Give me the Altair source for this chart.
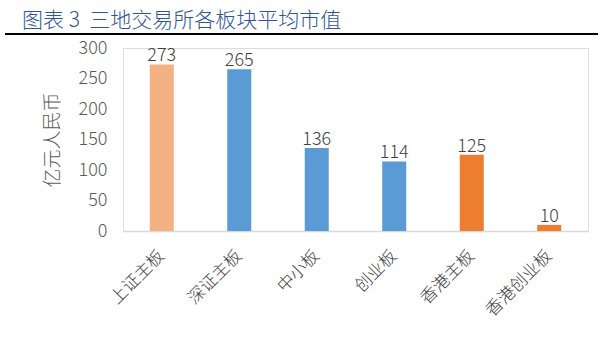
import altair as alt
import pandas as pd

categories = ["上证主板", "深证主板", "中小板", "创业板", "香港主板", "香港创业板"]
values = [273, 265, 136, 114, 125, 10]
colors = ["#F4B183", "#5B9BD5", "#5B9BD5", "#5B9BD5", "#ED7D31", "#ED7D31"]
yticks = [0, 50, 100, 150, 200, 250, 300]

df = pd.DataFrame({"cat": categories, "val": values, "col": colors})
FONT = "Noto Sans CJK SC"

x = alt.X("cat:N", sort=categories, title=None,
          scale=alt.Scale(paddingInner=0.69, paddingOuter=0.345),
          axis=alt.Axis(labelAngle=-45, labelAlign="right", labelBaseline="middle",
                        labelFontSize=17, labelColor="#404040", labelFont=FONT,
                        labelFontWeight=300,
                        labelPadding=22, ticks=False, domainColor="#D9D9D9",
                        domainWidth=1.5, grid=False))
y = alt.Y("val:Q", title="亿元人民币",
          scale=alt.Scale(domain=[0, 300], nice=False),
          axis=alt.Axis(values=yticks, ticks=False, domain=False,
                        grid=False, labelFontSize=18, labelColor="#595959", labelFont=FONT,
                        labelFontWeight=300, labelOverlap=False, labelFlush=False,
                        labelPadding=16, titleFont=FONT, titleFontSize=19,
                        titleFontWeight=300, titleColor="#595959", titlePadding=16))

bars = alt.Chart(df).mark_bar().encode(x=x, y=y, color=alt.Color("col:N", scale=None))
labels = alt.Chart(df).mark_text(dy=-8, fontSize=18, color="#404040", font=FONT,
                                 fontWeight=300).encode(x=x, y=y, text="val:Q")

title = alt.Chart(pd.DataFrame({"t": ["图表 3\u00a0\u00a0三地交易所各板块平均市值"]})).mark_text(
    align="left", baseline="alphabetic", fontSize=21, color="#2E5597", font=FONT,
    fontWeight=300
).encode(x=alt.value(-101), y=alt.value(-21), text="t:N")

line = alt.Chart(pd.DataFrame({"a": [0]})).mark_rule(color="#000000", strokeWidth=2).encode(
    x=alt.value(-118), x2=alt.value(475), y=alt.value(-14))

chart = alt.layer(bars, labels, title, line).properties(
    width=465, height=183,
    autosize=alt.AutoSizeParams(type="none"),
    padding={"left": 123, "top": 48, "right": 13, "bottom": 121},
).configure_view(stroke=None).configure(background="#FFFFFF")

chart.save("out.html", embed_options={"renderer": "svg", "actions": False})
